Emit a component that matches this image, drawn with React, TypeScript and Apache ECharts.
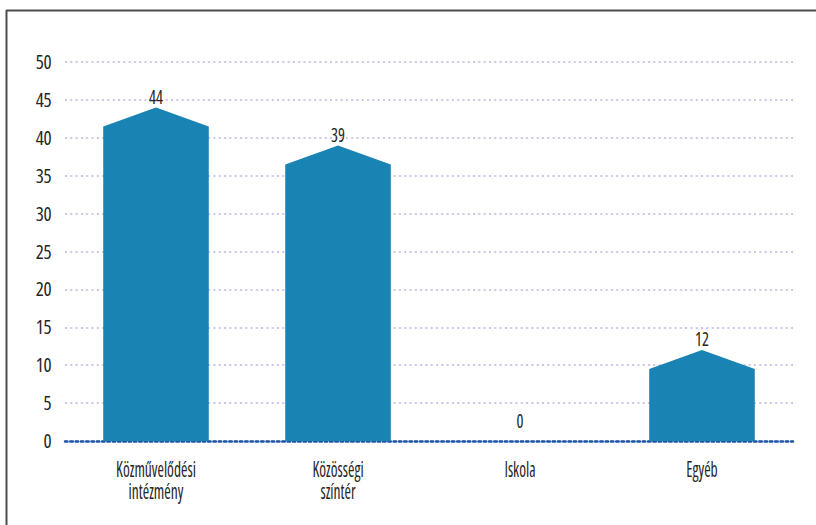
import React, { useEffect, useRef } from "react";
import * as echarts from "echarts";

const categories = ["Közművelődési\nintézmény", "Közösségi\nszíntér", "Iskola", "Egyéb"];
const values = [44, 39, 0, 12];
const yTicks = { min: 0, max: 50, interval: 5 };

const FONT = "'Open Sans', 'DejaVu Sans'; font-stretch: 75%";
const FONT_TIGHT = "'Open Sans', 'DejaVu Sans'; font-stretch: 75%; letter-spacing: -0.5px";
const BAR = "#1983b4";
const TEXT = "#262626";

export default function App() {
  const ref = useRef<HTMLDivElement>(null);
  useEffect(() => {
    if (!ref.current) return;
    const chart = echarts.init(ref.current, undefined, { renderer: "svg" });
    chart.setOption({
      animation: false,
      backgroundColor: "#ffffff",
      grid: { left: 65, right: 23, top: 62, bottom: 84, containLabel: false },
      xAxis: {
        type: "category",
        data: categories,
        axisLine: { show: true, lineStyle: { color: "#1f55a6", width: 2.5, type: [2.5, 2.8] } },
        axisTick: { show: false },
        axisLabel: { show: false },
      },
      yAxis: {
        type: "value",
        min: yTicks.min,
        max: yTicks.max,
        interval: yTicks.interval,
        axisLine: { show: false },
        axisTick: { show: false },
        axisLabel: { color: TEXT, fontFamily: FONT_TIGHT, fontWeight: 500, fontSize: 19, margin: 14 },
        splitLine: { show: true, lineStyle: { color: "#c6c9e7", width: 2, type: [2, 3.3] } },
      },
      graphic: [
        { type: "line", shape: { x1: 6, y1: 10.5, x2: 816, y2: 10.5 }, style: { stroke: "#4d4d4d", lineWidth: 2 }, z: 10 },
        { type: "line", shape: { x1: 6.5, y1: 10, x2: 6.5, y2: 525 }, style: { stroke: "#4d4d4d", lineWidth: 2 }, z: 10 },
      ],
      series: [
        {
          type: "custom",
          data: values.map((v, i) => [i, v]),
          clip: false,
          renderItem: (params: any, api: any) => {
            const idx = api.value(0);
            const val = api.value(1);
            const top = api.coord([idx, val]);
            const base = api.coord([idx, 0]);
            const w = api.size([1, 0])[0] * 0.58;
            const x0 = top[0] - w / 2;
            const x1 = top[0] + w / 2;
            const shoulder = Math.min(base[1], top[1] + 19);
            const children: any[] = [];
            if (val > 0) {
              children.push({
                type: "polygon",
                shape: {
                  points: [
                    [x0, base[1]],
                    [x0, shoulder],
                    [top[0], top[1]],
                    [x1, shoulder],
                    [x1, base[1]],
                  ],
                },
                style: { fill: BAR },
              });
            }
            children.push({
              type: "text",
              x: top[0],
              y: val > 0 ? top[1] - 12 : base[1] - 21,
              scaleX: 0.82,
              style: {
                text: String(val),
                fill: TEXT,
                fontFamily: FONT,
                fontWeight: 500,
                fontSize: 20,
                align: "center",
                verticalAlign: "middle",
              },
            });
            children.push({
              type: "text",
              x: base[0],
              y: base[1] + 16,
              scaleX: 0.74,
              style: {
                text: categories[idx],
                fill: TEXT,
                fontFamily: FONT,
                fontWeight: 500,
                fontSize: 21,
                lineHeight: 22,
                align: "center",
                verticalAlign: "top",
              },
            });
            return { type: "group", children };
          },
          z: 5,
        },
      ],
    });
    return () => chart.dispose();
  }, []);
  return (
    <div
      ref={ref}
      style={{ position: "fixed", left: 0, top: 0, width: 816, height: 525, background: "#fff" }}
    />
  );
}
